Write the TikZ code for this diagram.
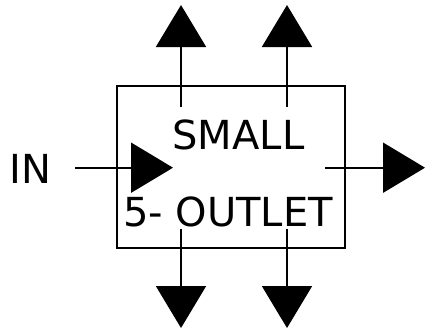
\documentclass[tikz,border=0pt]{standalone}
\usepackage{fontspec}
\setmainfont{DejaVu Sans}
\usetikzlibrary{arrows.meta}
\begin{document}
\begin{tikzpicture}[x=1pt,y=-1pt,
  wire/.style={line width=2pt,-{Triangle[width=50pt,length=42pt]}},
  lbl/.style={font=\fontsize{40}{40}\selectfont,inner sep=0pt,anchor=base},
  boxstyle/.style={draw,line width=2pt,minimum width=228pt,minimum height=162pt,inner sep=0pt}]
\useasboundingbox (0,0) rectangle (425,332);
\node[boxstyle] (box) at (231,167.3) {};
\node[lbl] (small) at (238.5,149) {SMALL};
\node[lbl] (outlet) at (228,226) {5- OUTLET};
\node[lbl] (in) at (30.5,183) {IN};
% coordinates
\coordinate (u1s) at (181,107);
\coordinate (u1e) at (181,5);
\coordinate (u2s) at (287,107);
\coordinate (u2e) at (287,5);
\coordinate (d1s) at (181,229);
\coordinate (d1e) at (181,328);
\coordinate (d2s) at (287,229);
\coordinate (d2e) at (287,328);
\coordinate (ins) at (75,167.7);
\coordinate (ine) at (173,167.7);
\coordinate (outs) at (325,167.7);
\coordinate (oute) at (425,167.7);
\draw[wire] (u1s) -- (u1e);
\draw[wire] (u2s) -- (u2e);
\draw[wire] (d1s) -- (d1e);
\draw[wire] (d2s) -- (d2e);
\draw[wire] (ins) -- (ine);
\draw[wire] (outs) -- (oute);
\end{tikzpicture}
\end{document}
